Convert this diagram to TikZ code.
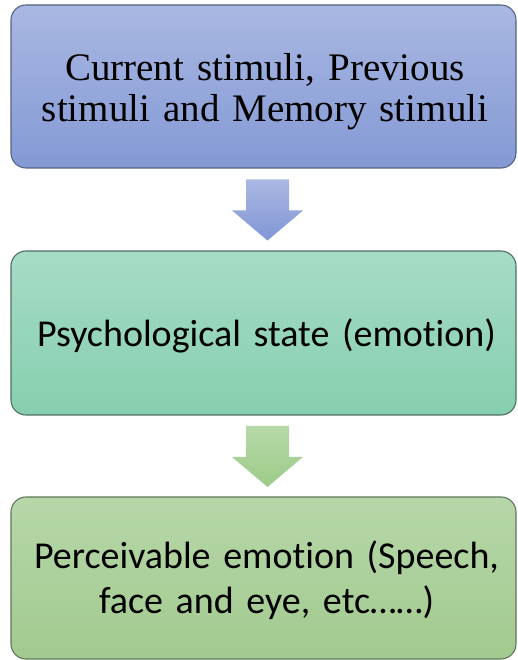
\documentclass[tikz,border=0pt]{standalone}
\usepackage{fontspec}
\setmainfont{Liberation Serif}
\newfontfamily\calibrilike[Ligatures=NoCommon]{Carlito}
\usetikzlibrary{calc}

\definecolor{blueTop}{HTML}{A9B8E2}
\definecolor{blueBot}{HTML}{8499D5}
\definecolor{blueEdge}{HTML}{56627E}
\definecolor{tealTop}{HTML}{A6DCC6}
\definecolor{tealBot}{HTML}{86CFAF}
\definecolor{tealEdge}{HTML}{4E6E62}
\definecolor{greenTop}{HTML}{B6D7A8}
\definecolor{greenBot}{HTML}{A2CA8F}
\definecolor{greenEdge}{HTML}{627460}
\definecolor{arrowBlueTop}{HTML}{AAB8E2}
\definecolor{arrowBlueBot}{HTML}{8196D6}
\definecolor{arrowGreenTop}{HTML}{B7D9A8}
\definecolor{arrowGreenBot}{HTML}{9CCB88}

% block arrow pointing down, centred on a named coordinate
\newcommand{\flowarrow}[3]{%
  \shade[top color=#2, bottom color=#3, shift={(#1)}]
    (-21.5,30) -- (21.5,30) -- (21.5,-1) -- (35.5,-1) -- (0,-31)
    -- (-35.5,-1) -- (-21.5,-1) -- cycle;}

\tikzset{
  stagebox/.style={rounded corners=15pt, line width=1.1pt, inner sep=0pt,
    minimum width=505pt},
  stagetext/.style={inner sep=0pt, text width=490pt, align=center},
}

\begin{document}
\begin{tikzpicture}[x=1pt,y=1pt]
  \useasboundingbox (0,0) rectangle (517,660);

  % the three stages
  \node[stagebox, minimum height=163pt, draw=blueEdge,
        top color=blueTop, bottom color=blueBot] (b1) at (263.5,573.5) {};
  \node[stagebox, minimum height=164pt, draw=tealEdge,
        top color=tealTop, bottom color=tealBot] (b2) at (263.5,327) {};
  \node[stagebox, minimum height=162pt, draw=greenEdge,
        top color=greenTop, bottom color=greenBot] (b3) at (263.5,82) {};

  % stage labels
  \node[stagetext, font=\fontsize{39}{41}\selectfont] (t1)
    at ($(b1.center)+(1.5,-5)$) {Current stimuli, Previous\\stimuli and Memory stimuli};
  \node[stagetext, font=\calibrilike\fontsize{38}{45}\selectfont] (t2)
    at ($(b2.center)+(3,-3)$) {Psychological state (emotion)};
  \node[stagetext, font=\calibrilike\fontsize{38}{45}\selectfont] (t3)
    at ($(b3.center)+(3,-2)$) {Perceivable emotion (Speech,\\face and eye, etc\ldots\ldots)};

  % arrows between the stages
  \coordinate (m1) at ($(b1.south)!0.5!(b2.north)+(4,0)$);
  \coordinate (m2) at ($(b2.south)!0.5!(b3.north)+(4,0)$);

  \flowarrow{m1}{arrowBlueTop}{arrowBlueBot}
  \flowarrow{m2}{arrowGreenTop}{arrowGreenBot}
\end{tikzpicture}
\end{document}
